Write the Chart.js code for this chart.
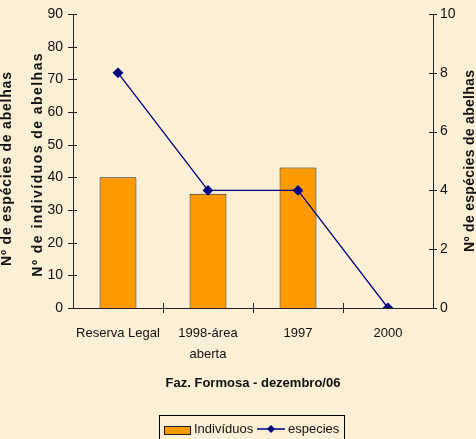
<!DOCTYPE html>
<html>
<head>
<meta charset="utf-8">
<script src="https://cdn.jsdelivr.net/npm/chart.js@4"></script>
<style>
html,body{margin:0;padding:0;background:#FBEFD5;}
canvas{display:block;}
</style>
</head>
<body>
<canvas id="c" width="476" height="439"></canvas>
<script>
const categories = [["Reserva Legal"], ["1998-área", "aberta"], ["1997"], ["2000"]];
const individuos = [40, 35, 43, null];
const especies = [8, 4, 4, 0];
const leftTicks = [0, 10, 20, 30, 40, 50, 60, 70, 80, 90];
const rightTicks = [0, 2, 4, 6, 8, 10];
const xTitle = "Faz. Formosa - dezembro/06";
const leftTitleOuter = "Nº de espécies de abelhas";
const leftTitleInner = "Nº de indivíduos de abelhas";
const rightTitle = "Nº de espécies de abelhas";
const legendLabels = ["Indivíduos", "especies"];

const FONT = "'Liberation Sans', Arial, sans-serif";
const BG = "#FBEFD5";
const AXIS = "#222";

const deco = {
  id: 'deco',
  beforeDraw(chart) {
    const ctx = chart.ctx;
    ctx.save();
    ctx.fillStyle = BG;
    ctx.fillRect(0, 0, chart.width, chart.height);
    ctx.restore();
  },
  afterDraw(chart) {
    const ctx = chart.ctx;
    const ca = chart.chartArea;
    const x = chart.scales.x, y = chart.scales.y, y1 = chart.scales.y1;
    ctx.save();
    ctx.strokeStyle = AXIS;
    ctx.lineWidth = 1;
    ctx.beginPath();
    leftTicks.forEach(v => {
      const py = Math.round(y.getPixelForValue(v)) + 0.5;
      ctx.moveTo(ca.left - 5, py); ctx.lineTo(ca.left + 4, py);
    });
    rightTicks.forEach(v => {
      const py = Math.round(y1.getPixelForValue(v)) + 0.5;
      ctx.moveTo(ca.right - 4, py); ctx.lineTo(ca.right + 4, py);
    });
    for (let i = 0; i < categories.length - 1; i++) {
      const px = Math.round((x.getPixelForValue(i) + x.getPixelForValue(i + 1)) / 2) + 0.5;
      ctx.moveTo(px, ca.bottom - 5); ctx.lineTo(px, ca.bottom + 5);
    }
    ctx.stroke();

    // axis titles
    ctx.fillStyle = "#111";
    ctx.font = "bold 14px " + FONT;
    ctx.textAlign = "center";
    ctx.textBaseline = "middle";
    const rot = (t, cx, cy, sp) => {
      try { ctx.letterSpacing = sp + "px"; } catch (e) {}
      ctx.save(); ctx.translate(cx, cy); ctx.rotate(-Math.PI / 2); ctx.fillText(t, sp / 2, 0); ctx.restore();
    };
    rot(leftTitleOuter, 7, 169, 0.8);
    rot(leftTitleInner, 38, 165, 1.45);
    rot(rightTitle, 470, 161, 0.3);
    try { ctx.letterSpacing = "0px"; } catch (e) {}

    ctx.font = "bold 13px " + FONT;
    ctx.fillText(xTitle, (ca.left + ca.right) / 2, 383);

    // legend
    ctx.strokeStyle = "#000";
    ctx.fillStyle = BG;
    ctx.fillRect(159.5, 415.5, 185, 30);
    ctx.strokeRect(159.5, 415.5, 185, 30);
    const ds0 = chart.data.datasets[0], ds1 = chart.data.datasets[1];
    ctx.fillStyle = ds0.backgroundColor;
    ctx.fillRect(164.5, 426.5, 26, 8);
    ctx.strokeStyle = ds0.borderColor;
    ctx.strokeRect(164.5, 426.5, 26, 8);
    ctx.fillStyle = "#111";
    ctx.font = "13px " + FONT;
    ctx.textAlign = "left";
    ctx.fillText(legendLabels[0], 194, 429);
    ctx.strokeStyle = ds1.borderColor;
    ctx.lineWidth = 1.5;
    ctx.beginPath(); ctx.moveTo(257, 429); ctx.lineTo(285, 429); ctx.stroke();
    ctx.fillStyle = ds1.pointBackgroundColor;
    ctx.beginPath();
    ctx.moveTo(271, 425); ctx.lineTo(275, 429); ctx.lineTo(271, 433); ctx.lineTo(267, 429); ctx.closePath();
    ctx.fill();
    ctx.fillStyle = "#111";
    ctx.fillText(legendLabels[1], 288, 429);
    ctx.restore();
  }
};

new Chart(document.getElementById('c'), {
  data: {
    labels: categories,
    datasets: [
      {
        type: 'bar', label: legendLabels[0], data: individuos, yAxisID: 'y',
        backgroundColor: '#FF9900', borderColor: '#222', borderWidth: 1,
        barPercentage: 0.41, categoryPercentage: 1, order: 2
      },
      {
        type: 'line', label: legendLabels[1], data: especies, yAxisID: 'y1',
        borderColor: '#000080', borderWidth: 1.3, pointStyle: 'rectRot', pointRadius: 4.5,
        pointBackgroundColor: '#000080', pointBorderColor: '#000080', tension: 0, order: 1
      }
    ]
  },
  options: {
    responsive: false,
    animation: false,
    devicePixelRatio: 1,
    layout: { padding: { top: 14, left: 0, right: 0, bottom: 0 } },
    plugins: { legend: { display: false }, tooltip: { enabled: false } },
    scales: {
      x: {
        offset: true,
        grid: { display: false, drawTicks: false },
        border: { display: true, color: AXIS, width: 1 },
        ticks: { color: '#111', font: { family: FONT, size: 13, lineHeight: 1.6 }, padding: 15, maxRotation: 0, autoSkip: false },
        afterFit(s) { s.height = 131; s.paddingLeft = 0; s.paddingRight = 0; }
      },
      y: {
        position: 'left', min: 0, max: 90,
        grid: { display: false, drawTicks: false },
        border: { display: true, color: AXIS, width: 1 },
        ticks: { stepSize: 10, color: '#111', font: { family: FONT, size: 14 }, padding: 10 },
        afterFit(s) { s.width = 73; s.paddingTop = 0; s.paddingBottom = 0; }
      },
      y1: {
        position: 'right', min: 0, max: 10,
        grid: { display: false, drawTicks: false },
        border: { display: true, color: AXIS, width: 1 },
        ticks: { stepSize: 2, color: '#111', font: { family: FONT, size: 14 }, padding: 7 },
        afterFit(s) { s.width = 43; s.paddingTop = 0; s.paddingBottom = 0; }
      }
    }
  },
  plugins: [deco]
});
</script>
</body>
</html>
